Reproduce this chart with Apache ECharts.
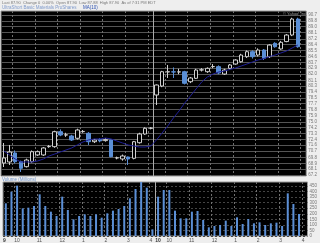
<!DOCTYPE html>
<html><head><meta charset="utf-8">
<script src="https://cdn.jsdelivr.net/npm/echarts@6/dist/echarts.min.js"></script>
<style>html,body{margin:0;padding:0;background:#eeeeee}#c{width:320px;height:243px}</style>
</head><body><div id="c"></div>
<script>
// 15-minute slots, two sessions
const times = [
 'd1 09:30','d1 09:45','d1 10:00','d1 10:15','d1 10:30','d1 10:45','d1 11:00','d1 11:15','d1 11:30','d1 11:45',
 'd1 12:00','d1 12:15','d1 12:30','d1 12:45','d1 13:00','d1 13:15','d1 13:30','d1 13:45','d1 14:00','d1 14:15',
 'd1 14:30','d1 14:45','d1 15:00','d1 15:15','d1 15:30','d1 15:45','d1 16:00',
 'd2 09:30','d2 09:45','d2 10:00','d2 10:15','d2 10:30','d2 10:45','d2 11:00','d2 11:15','d2 11:30','d2 11:45',
 'd2 12:00','d2 12:15','d2 12:30','d2 12:45','d2 13:00','d2 13:15','d2 13:30','d2 13:45','d2 14:00','d2 14:15',
 'd2 14:30','d2 14:45','d2 15:00','d2 15:15','d2 15:30','d2 15:45','d2 16:00'
];
// [open, close, low, high]
const candles = [
 [68.96,69.70,68.37,71.90],[69.11,70.58,68.67,71.61],[70.43,69.15,68.90,70.80],[69.15,68.18,67.64,69.30],
 [68.42,69.40,68.30,69.60],[69.15,70.62,69.00,70.80],[70.14,70.62,70.00,70.80],[70.14,71.17,70.00,71.30],
 [71.36,71.40,71.20,71.60],[71.36,73.56,71.20,73.70],[73.56,73.07,72.90,73.90],[73.07,73.10,72.80,73.40],
 [72.93,72.34,72.20,73.10],[72.59,73.81,72.40,74.00],[73.56,73.60,73.40,73.80],[73.32,72.09,71.61,73.50],
 [72.09,72.34,71.90,72.50],[72.40,72.20,72.00,72.60],[72.25,72.40,72.10,72.60],[72.34,69.89,69.80,72.40],
 [69.70,69.72,69.50,69.90],[69.55,69.99,69.30,70.20],[69.84,69.55,68.67,69.90],[69.65,72.09,69.50,72.20],
 [71.94,73.22,71.80,73.40],[73.22,74.06,73.10,74.20],[74.05,74.10,73.90,74.20],
 [78.95,80.42,77.48,80.50],[80.27,82.37,80.10,82.50],[82.33,82.37,81.45,83.36],[82.35,82.33,81.45,83.00],
 [82.33,82.35,82.00,82.80],[82.37,80.67,80.50,82.50],[80.90,81.45,80.70,81.60],[81.40,82.62,81.30,82.80],
 [82.62,82.65,82.40,82.90],[82.37,82.87,82.20,83.00],[83.11,83.13,82.90,83.50],[83.11,82.18,82.00,83.30],
 [82.03,82.62,81.90,82.80],[82.87,83.36,82.70,83.50],[83.50,84.09,83.40,84.20],[83.84,84.82,83.70,85.00],
 [84.58,85.31,84.40,85.50],[85.31,84.58,84.30,85.50],[84.82,85.56,84.60,85.80],[85.56,84.34,84.10,85.70],
 [84.58,86.29,84.40,86.40],[86.54,86.04,85.90,86.70],[85.71,86.69,85.60,86.90],[86.80,87.76,86.70,87.90],
 [87.76,90.11,87.60,90.30],[90.11,86.04,85.90,90.30]
];
const ma10 = [
 70.72,70.14,69.55,69.11,69.11,69.11,69.26,69.55,69.99,70.28,70.58,70.87,71.17,71.61,72.05,72.34,72.49,72.49,
 72.63,72.49,72.19,71.90,71.61,71.46,71.31,71.31,71.46,
 72.34,73.37,74.40,75.57,76.60,77.77,78.80,79.83,80.86,81.59,82.03,82.33,82.47,82.70,82.92,83.21,83.50,83.80,
 84.09,84.31,84.60,84.82,85.12,85.41,85.85,86.29
];
const volume = [
 294,399,453,249,255,270,375,270,219,180,354,234,150,180,195,180,195,165,204,228,243,270,339,423,489,435,60,
 354,414,414,228,159,159,219,225,144,78,90,99,138,90,168,108,153,114,123,99,114,120,90,384,288,198
];
const priceTicks = [90.7,89.8,89.0,88.1,87.2,86.4,85.5,84.6,83.7,82.9,82.0,81.1,80.3,79.4,78.5,77.7,76.8,75.9,75.0,74.2,73.3,72.4,71.6,70.7,69.8,68.9,68.1,67.2];
const volumeTicks = [0,50,100,150,200,250,300,350,400,450];
const hourEdges = [2,6,10,14,18,22,26,29,33,37,41,45,49,53];
const hourLabels = ['10','11','12','1','2','3','4','10','11','12','1','2','3','4'];
const dateEdges = [0,27];
const dateLabels = ['9','10'];

const FONT = 'Liberation Sans';
const labelEdges = dateEdges.concat(hourEdges).sort((a,b)=>a-b);
function xLabel(v){
  const d = dateEdges.indexOf(v);
  if (d >= 0) return '{b|' + dateLabels[d] + '}';
  const h = hourEdges.indexOf(v);
  return h >= 0 ? hourLabels[h] : '';
}
function edgeAxis(grid, ticks, style, withLabels){
  return {
    type:'value', gridIndex:grid, min:0, max:times.length, position:'bottom',
    axisLine:{show:false},
    axisTick:{show:false, customValues:ticks},
    splitLine:{show:true, lineStyle:style},
    axisLabel: withLabels ? {
      show:true, customValues:labelEdges, formatter:xLabel, align:'left', margin:2,
      fontSize:5, color:'#555', fontFamily:FONT,
      rich:{b:{fontSize:5, fontWeight:'bold', color:'#333', fontFamily:FONT}}
    } : {show:false}
  };
}
const dashStyle = {color:'#6f6f6f', width:1, type:[2,2]};
const dayStyle = {color:'#aaaaaa', width:1};

const chart = echarts.init(document.getElementById('c'));
chart.setOption({
  backgroundColor:'#eeeeee',
  animation:false,
  grid:[
    {left:1, right:12, top:11, height:165, show:true, backgroundColor:'#000', borderColor:'#999', borderWidth:1},
    {left:1, right:12, top:182, height:54, show:true, backgroundColor:'#000', borderColor:'#999', borderWidth:1}
  ],
  xAxis:[
    {type:'category', gridIndex:0, data:times, boundaryGap:true, show:false},
    {type:'category', gridIndex:1, data:times, boundaryGap:true, show:false},
    edgeAxis(0, hourEdges, dashStyle, false),
    edgeAxis(0, [27], dayStyle, false),
    edgeAxis(1, hourEdges, dashStyle, true),
    edgeAxis(1, [27], dayStyle, false)
  ],
  yAxis:[
    {type:'value', gridIndex:0, position:'right', min:67.05, max:91.29,
     axisLine:{show:false}, axisTick:{show:false, customValues:priceTicks},
     axisLabel:{customValues:priceTicks, formatter:v=>v.toFixed(1), fontSize:4.5, color:'#777', margin:2, fontFamily:FONT},
     splitLine:{show:true, lineStyle:{color:'#555', width:1}}},
    {type:'value', gridIndex:1, position:'right', min:0, max:486,
     axisLine:{show:false}, axisTick:{show:false, customValues:volumeTicks},
     axisLabel:{customValues:volumeTicks, formatter:v=>String(v), fontSize:4.5, color:'#777', margin:2, fontFamily:FONT},
     splitLine:{show:true, lineStyle:{color:'#444', width:1, type:[2,2]}}}
  ],
  series:[
    {type:'candlestick', xAxisIndex:0, yAxisIndex:0, data:candles, barWidth:4,
     itemStyle:{color:'#000000', color0:'#5b8fd6', borderColor:'#cfcfcf', borderColor0:'#5b8fd6', borderWidth:1}},
    {type:'line', xAxisIndex:0, yAxisIndex:0, data:ma10, showSymbol:false, symbol:'none',
     lineStyle:{color:'#1f1f96', width:1}},
    {type:'bar', xAxisIndex:1, yAxisIndex:1, data:volume, barWidth:2, itemStyle:{color:'#5b8fd6'}}
  ],
  graphic:[
    {type:'text', left:2, top:0.5, style:{text:'Last 87.90  Change 0  0.00%  Open 87.90  Low 87.88  High 87.90  As of 7:31 PM EDT', fontSize:4, fontFamily:FONT, fill:'#777'}},
    {type:'text', left:2, top:5.5, style:{text:'UltraShort Basic Materials ProShares', fontSize:4.5, fontFamily:FONT, fill:'#7f9acb'}},
    {type:'text', left:83, top:5.5, style:{text:'MA(10)', fontSize:4.5, fontFamily:FONT, fill:'#2a4fb0'}},
    {type:'text', right:13, top:12, style:{text:'\u00a9 Yahoo! Inc.', fontSize:4, fontFamily:FONT, fill:'#9a9a9a'}},
    {type:'text', left:2, top:177.2, style:{text:'Volume (Millions)', fontSize:4.5, fontFamily:FONT, fill:'#6f93c9'}}
  ]
});
</script></body></html>
